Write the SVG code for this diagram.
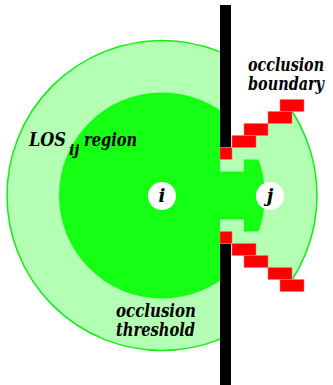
<svg xmlns="http://www.w3.org/2000/svg" width="333" height="385" viewBox="0 0 333 385">
<style>
.lbl{font-family:'DejaVu Serif',serif;font-weight:700;font-style:italic;font-size:18px;fill:#000}
.blk{fill:#ff0000;stroke:#ff7070;stroke-width:0.6}
.node{fill:#ffffff}
</style>
<defs>
<clipPath id="visOuter">
<polygon points="0,0 220,0 220,159.5 232,159.5 232,147.5 256,147.5 256,135.5 268,135.5 268,123.5 292,123.5 292,111.5 333,111.5 333,279.5 292,279.5 292,267.5 268,267.5 268,255.5 256,255.5 256,243.5 232,243.5 232,231.5 220,231.5 220,385 0,385"/>
</clipPath>
<clipPath id="visInner">
<polygon points="0,0 220,0 220,171.5 244,171.5 244,159.5 333,159.5 333,231.5 244,231.5 244,219.5 220,219.5 220,385 0,385"/>
</clipPath>
</defs>
<g id="los-region">
<circle cx="162" cy="195.5" r="155" fill="#b3ffb3" stroke="#10ee10" stroke-width="1.5" clip-path="url(#visOuter)"/>
</g>
<g id="occlusion-threshold">
<circle cx="162" cy="195.5" r="103" fill="#14ff14" clip-path="url(#visInner)"/>
</g>
<g id="wall">
<rect x="220" y="5" width="11" height="142.5" fill="#000"/>
<rect x="220" y="243.5" width="11" height="141.5" fill="#000"/>
</g>
<g id="occlusion-boundary">
<rect class="blk" x="220" y="147.5" width="12" height="12"/>
<rect class="blk" x="232" y="135.5" width="24" height="12"/>
<rect class="blk" x="244" y="123.5" width="24" height="12"/>
<rect class="blk" x="268" y="111.5" width="24" height="12"/>
<rect class="blk" x="280" y="99.5" width="24" height="12"/>
<rect class="blk" x="220" y="231.5" width="12" height="12"/>
<rect class="blk" x="232" y="243.5" width="24" height="12"/>
<rect class="blk" x="244" y="255.5" width="24" height="12"/>
<rect class="blk" x="268" y="267.5" width="24" height="12"/>
<rect class="blk" x="280" y="279.5" width="24" height="12"/>
</g>
<g id="node-i">
<circle class="node" cx="162" cy="196" r="14"/>
<text class="lbl" x="162" y="201.5" text-anchor="middle">i</text>
</g>
<g id="node-j">
<circle class="node" cx="270" cy="196" r="14"/>
<text class="lbl" x="270" y="201.5" text-anchor="middle">j</text>
</g>
<g id="labels">
<text class="lbl" x="29" y="146" textLength="37" lengthAdjust="spacingAndGlyphs">LOS</text>
<text class="lbl" x="69" y="155" style="font-size:14px">ij</text>
<text class="lbl" x="84" y="146" textLength="53" lengthAdjust="spacingAndGlyphs">region</text>
<text class="lbl" x="116" y="317" textLength="80" lengthAdjust="spacingAndGlyphs">occlusion</text>
<text class="lbl" x="116" y="336" textLength="79" lengthAdjust="spacingAndGlyphs">threshold</text>
<text class="lbl" x="248" y="71" textLength="76" lengthAdjust="spacingAndGlyphs">occlusion</text>
<text class="lbl" x="248" y="90" textLength="76" lengthAdjust="spacingAndGlyphs">boundary</text>
</g>
</svg>
